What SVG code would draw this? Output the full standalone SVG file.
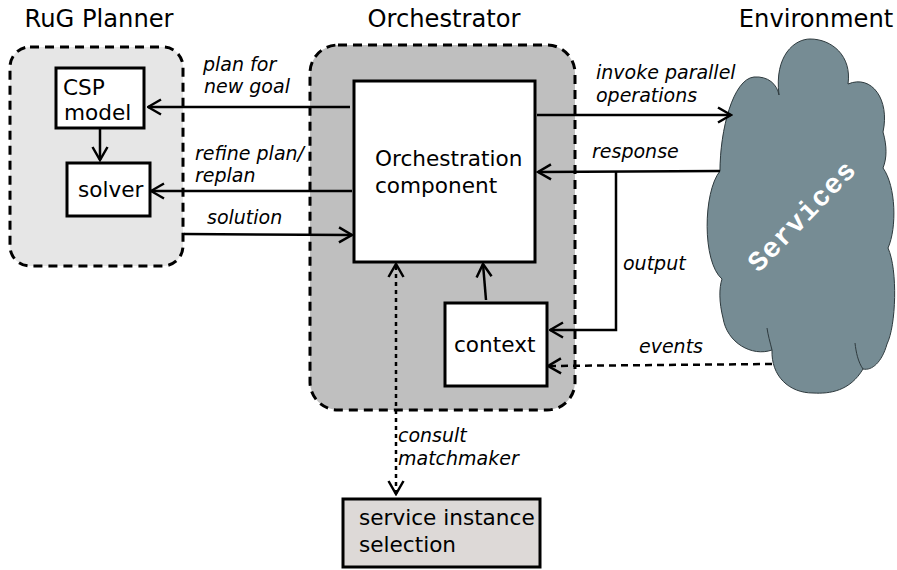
<svg xmlns="http://www.w3.org/2000/svg" width="897" height="570" viewBox="0 0 897 570">
  <style>
    .title { font-family: "DejaVu Sans", sans-serif; font-size: 24.2px; fill: #000; }
    .body { font-family: "DejaVu Sans", sans-serif; font-size: 21.6px; fill: #000; }
    .lbl { font-family: "DejaVu Sans", sans-serif; font-size: 19px; font-style: italic; fill: #000; }
    .box { fill: #fff; stroke: #000; stroke-width: 3; }
    .group { stroke: #000; stroke-width: 3; stroke-dasharray: 9 6; }
    .conn { fill: none; stroke: #000; stroke-width: 2.5; }
    .dash { stroke-dasharray: 7 5; }
    .dot { stroke-dasharray: 4 4; }
    .cloud { fill: #768c94; stroke: #2e3a3e; stroke-width: 1; }
    .seam { fill: none; stroke: #2e3a3e; stroke-width: 1; }
  </style>
  <defs>
    <marker id="arrow" viewBox="0 0 16 18" refX="14.5" refY="9" markerWidth="16" markerHeight="18" markerUnits="userSpaceOnUse" orient="auto-start-reverse">
      <path d="M1.5,1.5 L14.5,9 L1.5,16.5" fill="none" stroke="#000" stroke-width="2.5"/>
    </marker>
  </defs>

  <rect width="897" height="570" fill="#fff"/>

  <!-- RuG Planner group -->
  <g id="rug-planner">
    <rect class="group" x="10" y="47" width="173" height="219" rx="20" fill="#e6e6e6"/>
    <text class="title" x="99" y="27" text-anchor="middle">RuG Planner</text>
  </g>
  <g id="csp-model">
    <rect class="box" x="56" y="68" width="88" height="60"/>
    <text class="body" x="63" y="95">CSP</text>
    <text class="body" x="64" y="120">model</text>
  </g>
  <g id="solver">
    <rect class="box" x="67" y="163" width="83" height="53"/>
    <text class="body" x="78" y="197">solver</text>
  </g>

  <!-- Orchestrator group -->
  <g id="orchestrator">
    <rect class="group" x="310" y="45" width="265" height="365" rx="28" fill="#bfbfbf"/>
    <text class="title" x="444" y="27" text-anchor="middle">Orchestrator</text>
  </g>
  <g id="orchestration-component">
    <rect class="box" x="354" y="81" width="181" height="181"/>
    <text class="body" x="375" y="166">Orchestration</text>
    <text class="body" x="375" y="193">component</text>
  </g>
  <g id="context">
    <rect class="box" x="445" y="303" width="102" height="83"/>
    <text class="body" x="454" y="352">context</text>
  </g>

  <!-- Environment: cloud of services -->
  <g id="environment">
    <text class="title" x="816" y="27" text-anchor="middle">Environment</text>
    <path class="cloud" d="M779,95 C774,55 795,39 810,39 C832,39 852,56 848,84 C872,74 890,100 883,132 C887,146 887,158 883,168 C896,186 897,228 888,248 C898,270 896,326 887,344 C882,362 872,371 863,369 C850,391 830,394 813,393 C789,393 771,376 772,350 C752,357 727,343 723,318 C719,302 719,288 722,279 C702,262 703,192 720,171 C720,130 733,79 754,77 C768,76 777,84 779,95 Z"/>
    <path class="seam" d="M772,350 C770,342 768,335 767,328"/>
    <path class="seam" d="M863,369 C858,362 856,352 855,343"/>
    <text x="0" y="0" transform="translate(803,217) rotate(-46)" text-anchor="middle" dominant-baseline="middle" font-family="Liberation Mono, monospace" font-weight="bold" font-size="28" letter-spacing="1" fill="#fff">Services</text>
  </g>

  <!-- Service instance selection -->
  <g id="service-instance-selection">
    <rect x="343" y="499" width="197" height="68" fill="#ddd9d7" stroke="#000" stroke-width="3"/>
    <text class="body" x="359" y="525">service instance</text>
    <text class="body" x="359" y="552">selection</text>
  </g>

  <!-- Connectors -->
  <g id="connectors">
    <line class="conn" x1="350" y1="107" x2="148" y2="107" marker-end="url(#arrow)"/>
    <line class="conn" x1="352" y1="191" x2="151" y2="191" marker-end="url(#arrow)"/>
    <line class="conn" x1="184" y1="234" x2="352" y2="235" marker-end="url(#arrow)"/>
    <line class="conn" x1="100" y1="129" x2="100" y2="160" marker-end="url(#arrow)"/>
    <line class="conn" x1="537" y1="115" x2="731" y2="115" marker-end="url(#arrow)"/>
    <line class="conn" x1="720" y1="171" x2="538" y2="172" marker-end="url(#arrow)"/>
    <polyline class="conn" points="616,172 616,330 550,330" marker-end="url(#arrow)"/>
    <line class="conn dash" x1="772" y1="364" x2="548" y2="366" marker-end="url(#arrow)"/>
    <line class="conn" x1="486" y1="300" x2="483" y2="264" marker-end="url(#arrow)"/>
    <line class="conn dot" x1="396" y1="494" x2="396" y2="264" marker-start="url(#arrow)" marker-end="url(#arrow)"/>
  </g>

  <!-- Connector labels -->
  <g id="labels">
    <text class="lbl" x="203" y="71">plan for</text>
    <text class="lbl" x="204" y="93">new goal</text>
    <text class="lbl" x="195" y="160">refine plan/</text>
    <text class="lbl" x="195" y="182">replan</text>
    <text class="lbl" x="207" y="224">solution</text>
    <text class="lbl" x="596" y="79">invoke parallel</text>
    <text class="lbl" x="596" y="102">operations</text>
    <text class="lbl" x="592" y="158">response</text>
    <text class="lbl" x="623" y="270">output</text>
    <text class="lbl" x="639" y="353">events</text>
    <text class="lbl" x="398" y="442">consult</text>
    <text class="lbl" x="398" y="465">matchmaker</text>
  </g>
</svg>
